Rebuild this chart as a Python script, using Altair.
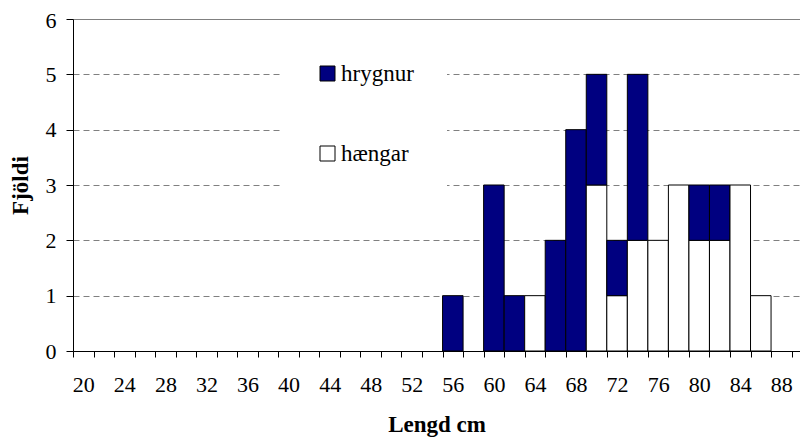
import altair as alt
import pandas as pd

# Length bins (cm, 2 cm classes) and counts
lengd = [56, 58, 60, 62, 64, 66, 68, 70, 72, 74, 76, 78, 80, 82, 84, 86]
hrygnur = [1, 0, 3, 1, 0, 2, 4, 2, 1, 3, 0, 0, 1, 1, 0, 0]
haengar = [0, 0, 0, 0, 1, 0, 0, 3, 1, 2, 2, 3, 2, 2, 3, 1]

kyn_domain = ["hrygnur", "hængar"]
kyn_colors = ["#000080", "#ffffff"]

y_ticks = [0, 1, 2, 3, 4, 5, 6]
x_ticks = list(range(19, 90, 2))  # category boundaries

rows = []
for L, r, h in zip(lengd, hrygnur, haengar):
    rows.append({"lengd": L, "kyn": "hængar", "fjoldi": h, "ord": 0})
    rows.append({"lengd": L, "kyn": "hrygnur", "fjoldi": r, "ord": 1})
df = pd.DataFrame(rows)

FONT = "Liberation Serif"

chart = (
    alt.Chart(df)
    .transform_stack(
        stack="fjoldi",
        groupby=["lengd"],
        as_=["y0", "y1"],
        sort=[alt.SortField("ord", order="ascending")],
    )
    .transform_filter("datum.fjoldi > 0")
    .transform_calculate(lo="datum.lengd - 1", hi="datum.lengd + 1")
    .mark_bar(stroke="black", strokeWidth=1)
    .encode(
        x=alt.X(
            "lo:Q",
            title="Lengd cm",
            scale=alt.Scale(domain=[19, 89.82], nice=False, zero=False),
            axis=alt.Axis(
                values=x_ticks,
                labelExpr="datum.value % 4 == 3 ? format(datum.value + 1, 'd') : ''",
                labelOffset=10.27,
                labelFlush=False,
                labelOverlap=False,
                labelBound=False,
                labelPadding=17,
                tickSize=6,
                grid=False,
                titlePadding=18,
            ),
        ),
        x2="hi:Q",
        y=alt.Y(
            "y0:Q",
            title="Fjöldi",
            scale=alt.Scale(domain=[0, 6], nice=False),
            axis=alt.Axis(
                values=y_ticks,
                format="d",
                tickSize=7,
                labelPadding=10,
                labelOffset={"condition": {"test": "datum.value === 6", "value": 1}, "value": 0},
                grid=True,
                gridColor="#808080",
                gridWidth=1,
                gridDash={"condition": {"test": "datum.value === 6", "value": []}, "value": [6, 4]},
                titlePadding=13,
            ),
        ),
        y2="y1:Q",
        fill=alt.Fill(
            "kyn:N",
            scale=alt.Scale(domain=kyn_domain, range=kyn_colors),
            legend=alt.Legend(
                title=None,
                orient="none",
                legendX=210,
                legendY=10,
                fillColor="white",
                padding=33,
                symbolType="square",
                symbolSize=225,
                symbolStrokeColor="black",
                symbolStrokeWidth=1,
                symbolOpacity=1,
                labelFont=FONT,
                labelFontSize=23,
                labelColor="black",
                labelOffset=2,
                rowPadding=56,
                direction="vertical",
            ),
        ),
    )
    .properties(
        width=727,
        height=332,
        autosize=alt.AutoSizeParams(type="none"),
        padding={"left": 65, "top": 11, "right": 0, "bottom": 87},
        background="white",
    )
    .configure_view(strokeWidth=0)
    .configure_axis(
        labelFont=FONT,
        labelFontSize=22,
        labelColor="black",
        titleFont=FONT,
        titleFontSize=23,
        titleFontWeight="bold",
        titleColor="black",
        domainColor="black",
        domainWidth=1,
        tickColor="black",
        tickWidth=1,
    )
)

chart.save("out.html", embed_options={"renderer": "svg", "actions": False})
